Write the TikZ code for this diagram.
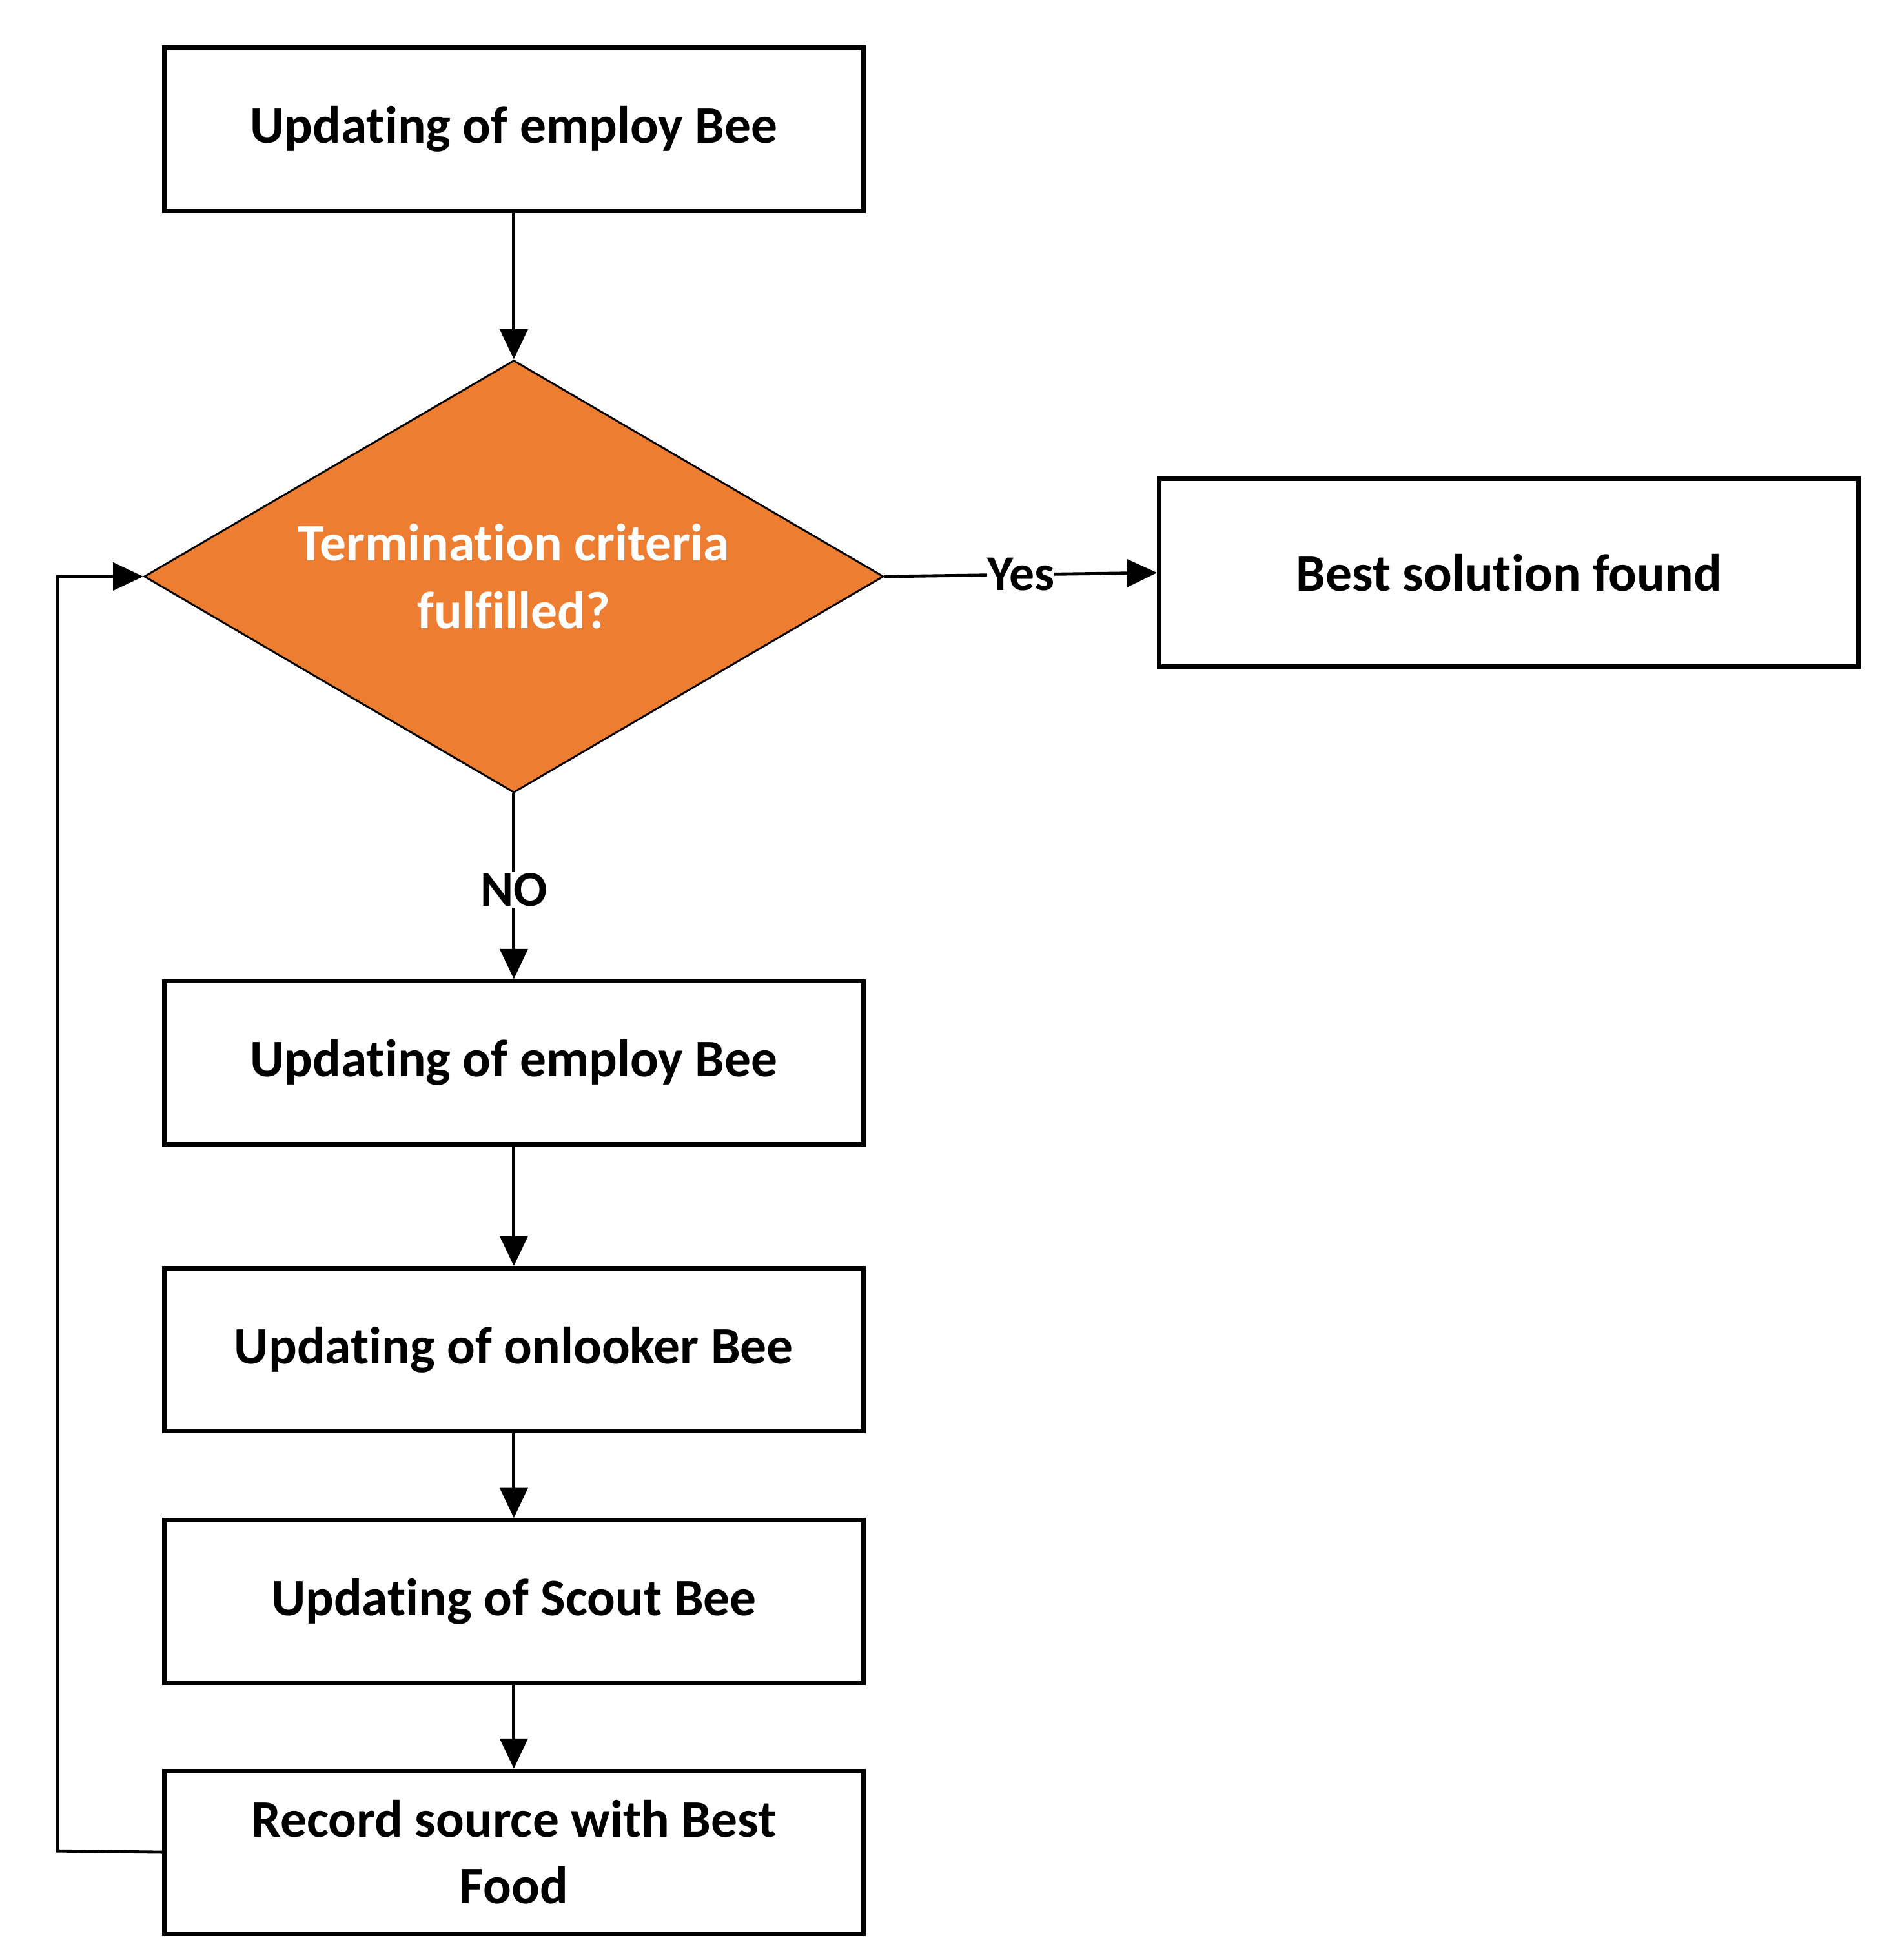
\documentclass[tikz,border=0pt]{standalone}
\usepackage{fontspec}
\setmainfont{Carlito}[Ligatures={NoCommon,NoRare}]
\usetikzlibrary{shapes.geometric,arrows.meta}
\definecolor{dorange}{HTML}{ED7D31}
\begin{document}
\begin{tikzpicture}[x=1pt,y=-1pt,
  box/.style={draw,line width=3.5pt,minimum width=558pt,minimum height=130pt,font=\fontsize{42}{53}\selectfont\bfseries,align=center,inner sep=0pt},
  arr/.style={line width=2.5pt,-{Triangle[length=24pt,width=22pt]}},
  lbl/.style={font=\fontsize{40}{50}\selectfont\bfseries,fill=white,inner sep=1pt}]
\useasboundingbox (0,0) rectangle (1500,1564);
\node[box] (b1) at (410,103) {Updating of employ Bee};
\node[draw,line width=1.5pt,fill=dorange,diamond,minimum width=590pt,minimum height=345pt,inner sep=0pt,aspect=1.71,font=\fontsize{42}{54}\selectfont\bfseries,text=white,align=center] (d) at (410,460) {Termination criteria\\fulfilled?};
\node[box,minimum height=150pt] (best) at (1204,457) {Best solution found};
\node[box] (b2) at (410,848) {Updating of employ Bee};
\node[box] (b3) at (410,1077) {Updating of onlooker Bee};
\node[box] (b4) at (410,1278) {Updating of Scout Bee};
\node[box] (b5) at (410,1478) {Record source with Best\\Food};
\coordinate (c1) at (46,1477);
\coordinate (c2) at (46,460);
\draw[arr] (b1) -- (d.north);
\draw[arr] (d.east) -- node[lbl,inner sep=0pt]{Yes} (best.west);
\draw[arr] (d.south) -- node[lbl,pos=0.52]{NO} (b2.north);
\draw[arr] (b2) -- (b3);
\draw[arr] (b3) -- (b4);
\draw[arr] (b4) -- (b5);
\draw[arr] (b5.west) -- (c1) -- (c2) -- (d.west);
\end{tikzpicture}
\end{document}
